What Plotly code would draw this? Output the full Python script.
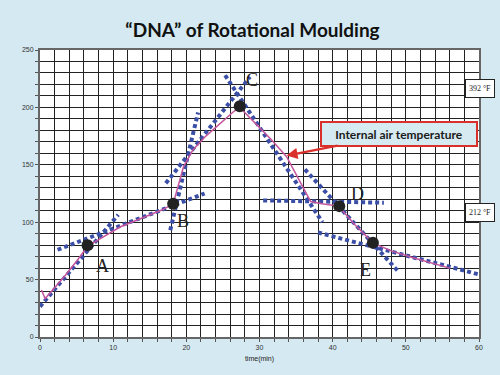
import plotly.graph_objects as go

# Internal air temperature curve (pink)
curve_t = [0.2, 0.7, 2.0, 3.5, 5.0, 6.5, 8.6, 11.0, 13.7, 16.8, 18.2, 19.6, 20.9, 22.5, 24.1, 26.4, 27.3,
           28.7, 31.6, 33.7, 35.5, 37.0, 38.5, 40.8, 43.0, 45.5, 48.0, 51.0, 56.0]
curve_temp = [41, 33.5, 43, 54, 66, 79, 87, 96, 103, 111, 116, 148, 163, 174, 183, 196, 200,
              191, 172, 157, 135, 118, 116, 114, 98, 82, 75, 69, 60]

# Key points A-E
pt_names = ["A", "B", "C", "D", "E"]
pt_t = [6.5, 18.2, 27.3, 40.9, 45.5]
pt_temp = [80, 116, 201, 114, 82]
label_t = [8.6, 19.6, 29.0, 43.4, 44.5]
label_temp = [62, 101, 224, 125, 58]

# Tangent (dotted) lines: start/end pairs
tan_t = [[0.0, 10.7], [2.4, 22.5], [17.8, 21.6], [17.2, 28.7], [25.3, 38.6],
         [30.5, 47.0], [36.2, 48.9], [38.0, 60.0]]
tan_temp = [[26.5, 106.5], [76, 125], [93, 195.5], [134, 226.6], [228, 100],
            [119, 117], [146, 57.6], [91, 54.5]]

x_ticks = [0, 10, 20, 30, 40, 50, 60]
y_ticks = [0, 50, 100, 150, 200, 250]

fig = go.Figure()

blue = "#3a4ea6"
for tx, ty in zip(tan_t, tan_temp):
    fig.add_trace(go.Scatter(x=tx, y=ty, mode="lines",
                             line=dict(color=blue, width=4, dash="4px,3px"),
                             hoverinfo="skip", showlegend=False))

fig.add_trace(go.Scatter(x=curve_t, y=curve_temp, mode="lines",
                         line=dict(color="#c4549c", width=1.5),
                         showlegend=False))

fig.add_trace(go.Scatter(x=pt_t, y=pt_temp, mode="markers",
                         marker=dict(color="#222222", size=12),
                         showlegend=False))

for name, lx, ly in zip(pt_names, label_t, label_temp):
    fig.add_annotation(x=lx, y=ly, text=name, showarrow=False,
                       font=dict(family="Liberation Serif", size=18, color="#222222"))

# Callout
fig.add_annotation(x=33.7, y=158, text="<b>Internal air temperature</b>",
                   showarrow=True, ax=112, ay=-22,
                   arrowhead=2, arrowsize=1, arrowwidth=2.2, arrowcolor="#d9302c",
                   bgcolor="#d6eaf2", bordercolor="#d9302c", borderwidth=2,
                   width=152, height=20,
                   font=dict(family="Lato", size=12, color="#1a1a1a"))

# Right-side temperature labels
for txt, yp in [("392 °F", 0.867), ("212 °F", 0.435)]:
    fig.add_annotation(xref="paper", yref="paper", x=1.002, y=yp, text=txt,
                       xanchor="center", yanchor="middle",
                       showarrow=False, bgcolor="white", bordercolor="#222222",
                       borderwidth=1, width=26, height=15,
                       font=dict(family="Liberation Serif", size=8, color="#222222"))

fig.update_layout(
    width=500, height=375,
    margin=dict(l=40, r=21, t=50, b=38),
    paper_bgcolor="#d4e9f1",
    plot_bgcolor="white",
    hovermode=False,
    title=dict(text="<b>“DNA” of Rotational Moulding</b>", x=0.505, xanchor="center",
               y=0.92, yanchor="middle", yref="container",
               font=dict(family="Lato", size=19, color="#111111")),
)

fig.update_xaxes(range=[0, 60], tickvals=x_ticks, showgrid=True, gridcolor="#222222", gridwidth=1.3,
                 minor=dict(dtick=2, showgrid=True, gridcolor="#222222", gridwidth=1.3,
                            ticks="outside", ticklen=3, tickcolor="#555555"),
                 ticks="outside", ticklen=3, tickcolor="#555555",
                 showline=True, linecolor="#666666", linewidth=2, mirror=True,
                 zeroline=False, automargin=False,
                 tickfont=dict(family="Liberation Sans", size=7, color="#333333"),
                 title=dict(text="time(min)", standoff=6,
                            font=dict(family="Liberation Sans", size=7, color="#222222")))
fig.update_yaxes(range=[0, 250], tickvals=y_ticks, showgrid=True, gridcolor="#222222", gridwidth=1.3,
                 minor=dict(dtick=10, showgrid=True, gridcolor="#222222", gridwidth=1.3,
                            ticks="outside", ticklen=3, tickcolor="#555555"),
                 ticks="outside", ticklen=3, tickcolor="#555555",
                 showline=True, linecolor="#666666", linewidth=2, mirror=True,
                 zeroline=False, automargin=False,
                 tickfont=dict(family="Liberation Sans", size=7, color="#333333"))

fig.write_html("out.html", config={"displayModeBar": False},
               post_script="document.body.style.margin='0';document.body.style.background='#d4e9f1';")
